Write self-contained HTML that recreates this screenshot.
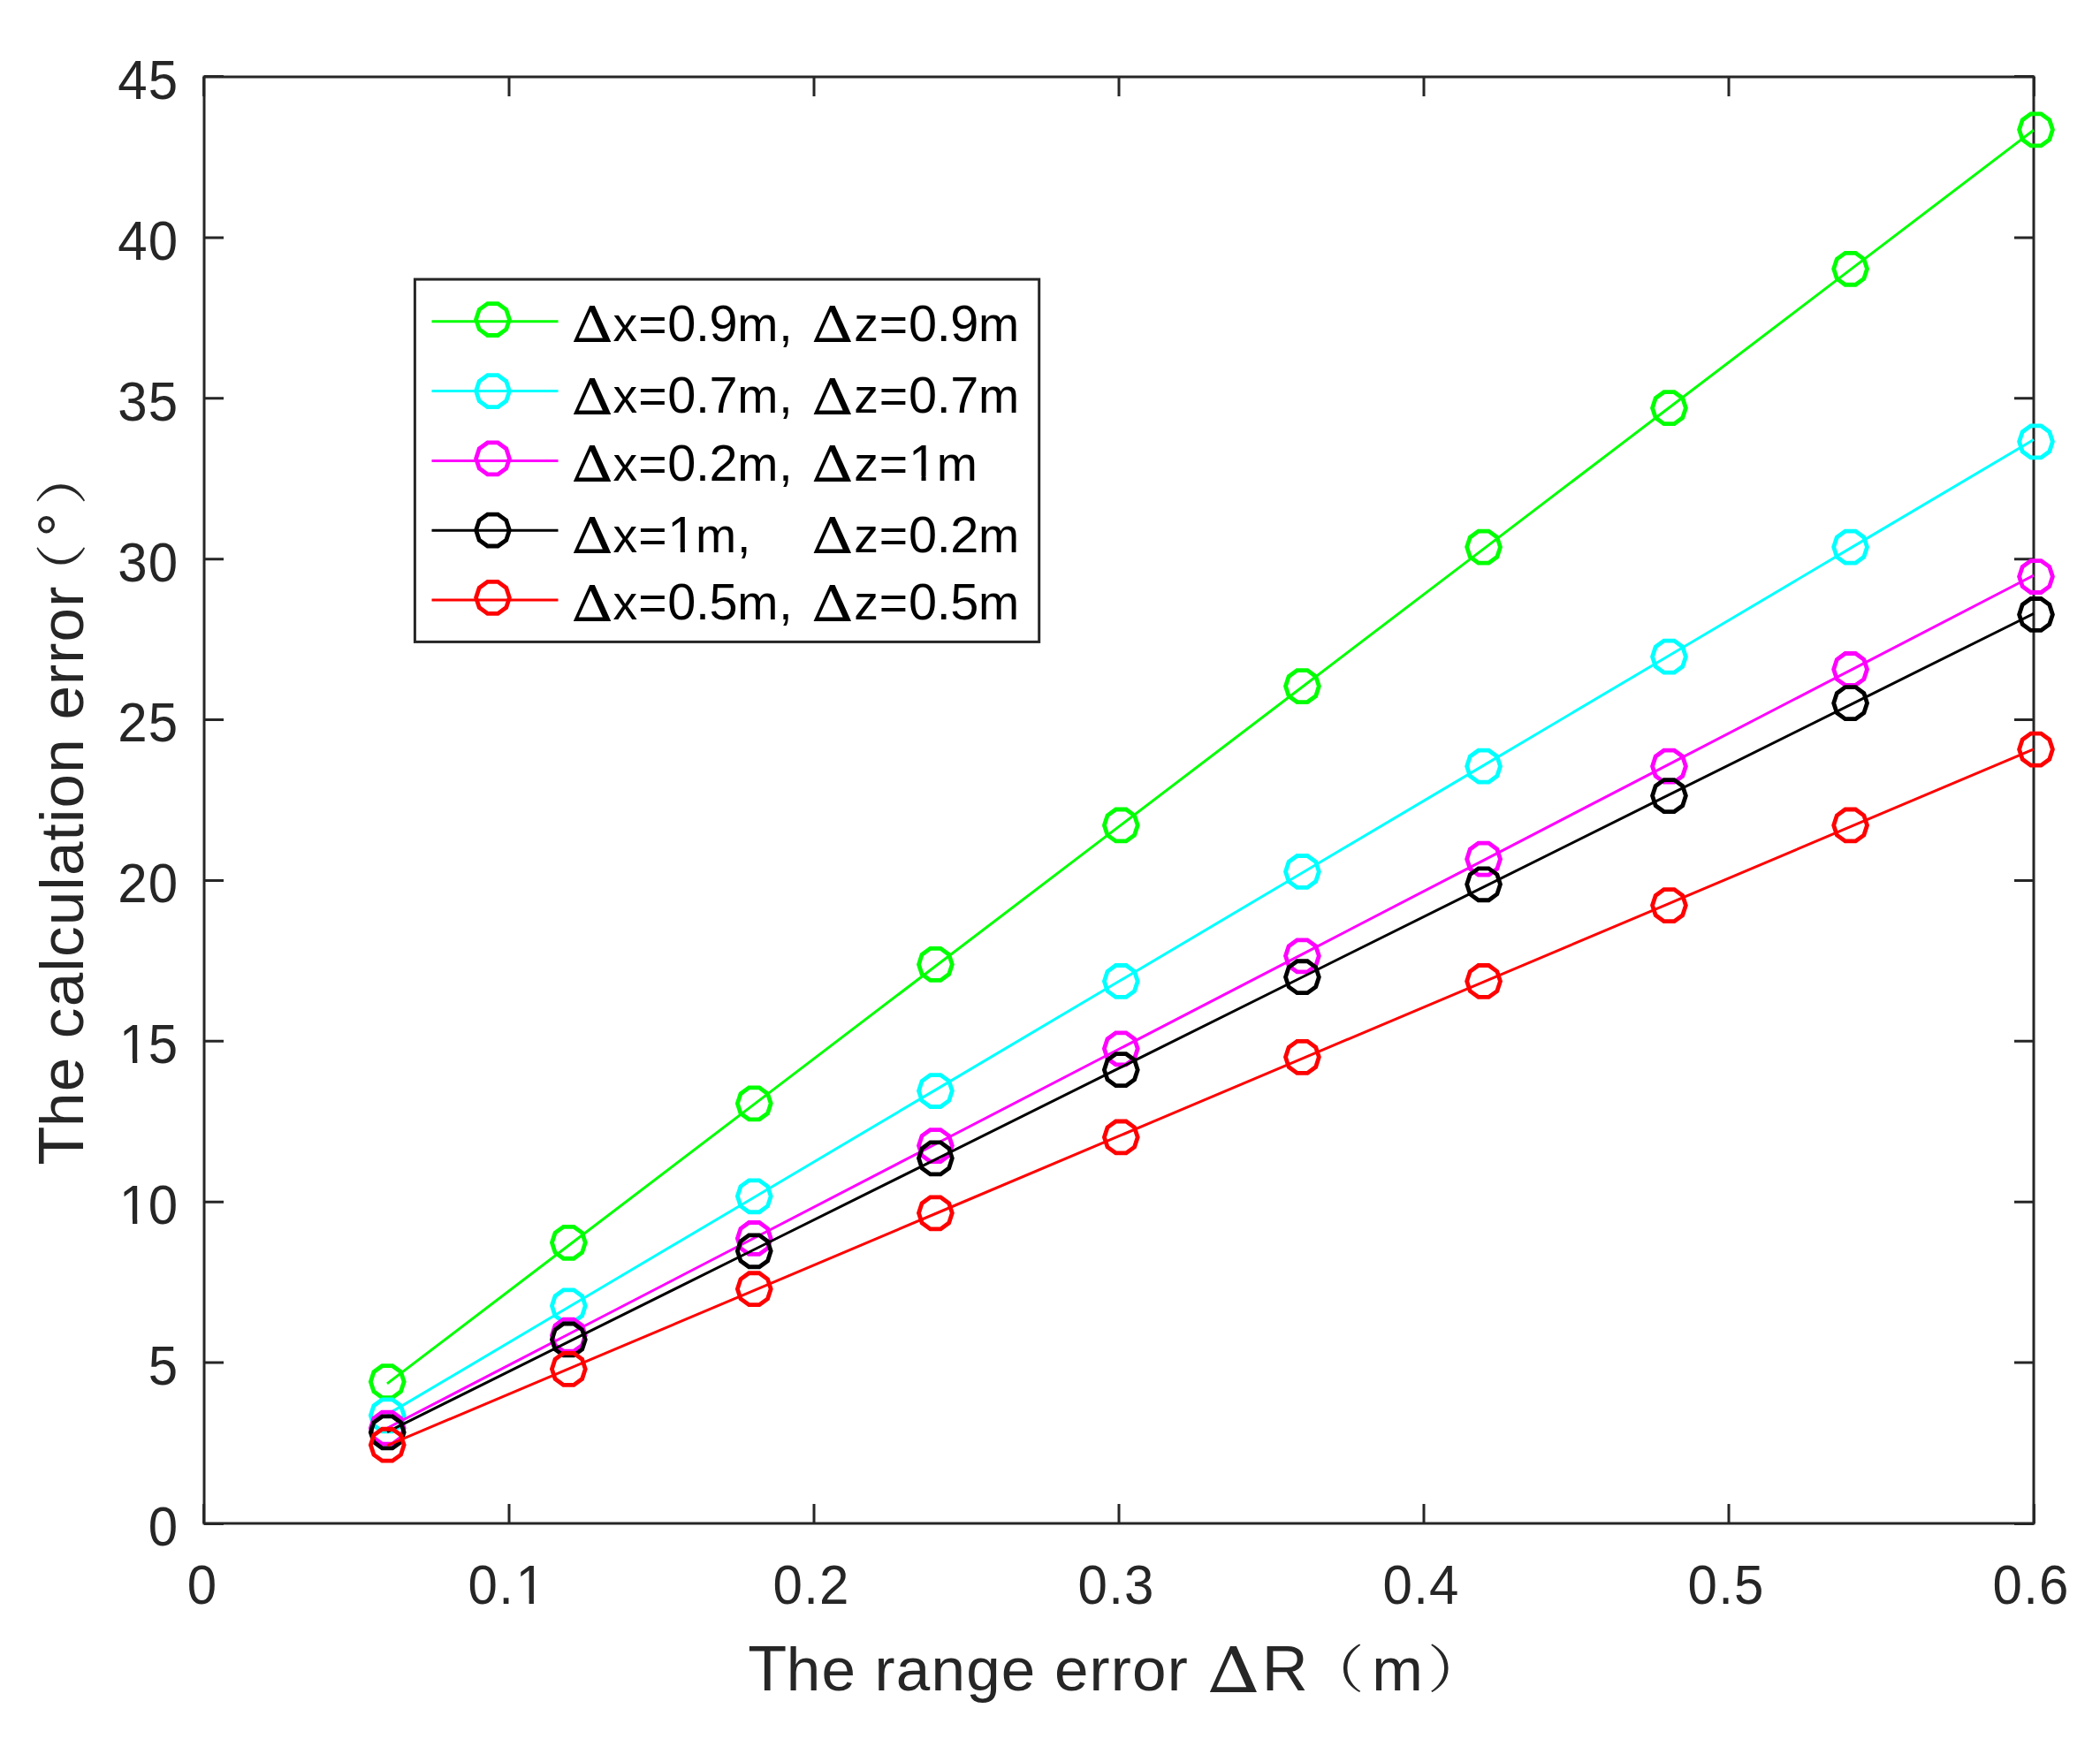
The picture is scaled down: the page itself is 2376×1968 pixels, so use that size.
<!DOCTYPE html>
<html lang="en">
<head>
<meta charset="utf-8">
<title>Calculation error versus range error</title>
<style>
html,body{margin:0;padding:0;background:#fff;}
body{width:2376px;height:1968px;overflow:hidden;}
svg{display:block;}
text{font-family:"Liberation Sans","Noto Sans CJK SC",sans-serif;fill:#262626;white-space:pre;}
.tick{font-size:60px;letter-spacing:1.2px;}
.lab{font-size:69.2px;letter-spacing:1.2px;}
.leg{font-size:55.4px;letter-spacing:0.85px;}
.leg text{fill:#000;}
.leg .n{font-size:57.616px;letter-spacing:-0.382096px;}
.lab .c{font-size:71.968px;letter-spacing:-0.491248px;}
text.d{font-family:"DejaVu Math TeX Gyre","DejaVu Serif",serif;letter-spacing:0;}
text.p{font-family:"Noto Serif CJK SC","Noto Sans CJK SC",serif;letter-spacing:0;}
</style>
</head>
<body>
<svg width="2376" height="1968" viewBox="0 0 2376 1968">
<rect x="0" y="0" width="2376" height="1968" fill="#fff"/>
<g stroke="#262626" stroke-width="3" fill="none" stroke-linecap="butt">
<rect x="231.0" y="87.0" width="2070.0" height="1637.0"/>
<path d="M576.0 1724.0v-22 M576.0 87.0v22 M921.0 1724.0v-22 M921.0 87.0v22 M1266.0 1724.0v-22 M1266.0 87.0v22 M1611.0 1724.0v-22 M1611.0 87.0v22 M1956.0 1724.0v-22 M1956.0 87.0v22 M231.0 1542.11h22 M2301.0 1542.11h-22 M231.0 1360.22h22 M2301.0 1360.22h-22 M231.0 1178.33h22 M2301.0 1178.33h-22 M231.0 996.44h22 M2301.0 996.44h-22 M231.0 814.56h22 M2301.0 814.56h-22 M231.0 632.67h22 M2301.0 632.67h-22 M231.0 450.78h22 M2301.0 450.78h-22 M231.0 268.89h22 M2301.0 268.89h-22 M230.6 1724.0v-22 M230.6 87.0v22 M2301.4 1724.0v-22 M2301.4 87.0v22 M231.0 1724.4h22 M2301.0 1724.4h-22 M231.0 86.6h22 M2301.0 86.6h-22"/>
</g>
<g class="tick">
<text transform="translate(211.7 1814.8) scale(1 1.04)">0</text>
<text transform="translate(529.6 1814.8) scale(1 1.04)">0.<tspan dx="1.5">1</tspan></text>
<text transform="translate(874.6 1814.8) scale(1 1.04)">0.2</text>
<text transform="translate(1219.6 1814.8) scale(1 1.04)">0.3</text>
<text transform="translate(1564.6 1814.8) scale(1 1.04)">0.4</text>
<text transform="translate(1909.6 1814.8) scale(1 1.04)">0.5</text>
<text transform="translate(2254.6 1814.8) scale(1 1.04)">0.6</text>
<text transform="translate(202.3 1748.8) scale(1 1.04)" text-anchor="end">0</text>
<text transform="translate(202.3 1566.9) scale(1 1.04)" text-anchor="end">5</text>
<text transform="translate(202.3 1385.0) scale(1 1.04)" text-anchor="end">1<tspan dx="-1.5">0</tspan></text>
<text transform="translate(202.3 1203.1) scale(1 1.04)" text-anchor="end">1<tspan dx="-1.5">5</tspan></text>
<text transform="translate(202.3 1021.2) scale(1 1.04)" text-anchor="end">20</text>
<text transform="translate(202.3 839.4) scale(1 1.04)" text-anchor="end">25</text>
<text transform="translate(202.3 657.5) scale(1 1.04)" text-anchor="end">30</text>
<text transform="translate(202.3 475.6) scale(1 1.04)" text-anchor="end">35</text>
<text transform="translate(202.3 293.7) scale(1 1.04)" text-anchor="end">40</text>
<text transform="translate(202.3 111.8) scale(1 1.04)" text-anchor="end">45</text>
</g>
<g class="lab">
<text x="846.3" y="1913.0"><tspan class="c">T</tspan>he range error </text><text class="d" transform="translate(1362.3 1914.8) scale(1.165 1)" font-size="71.0">Δ</text><text class="c" x="1427.8" y="1913.0">R</text><text class="p" transform="translate(1476.1 1910.0) scale(1.160 1)" font-size="58.2">（</text><text x="1552.3" y="1913.0">m</text><text class="p" transform="translate(1615.0 1910.0) scale(1.160 1)" font-size="58.2">）</text>
</g>
<g class="lab" transform="translate(94.1 1316.8) rotate(-90)">
<text x="-1.6" y="0"><tspan class="c">T</tspan>he calculation error</text><text class="p" transform="translate(634.2 -3.0) scale(1.160 1)" font-size="58.2">（</text><text x="709.2" y="-3.0">°</text><text class="p" transform="translate(745.0 -3.0) scale(1.160 1)" font-size="58.2">）</text>
</g>
<g stroke="#00ff00" fill="none">
<polyline stroke-width="3" points="438.00,1565.88 645.00,1408.25 852.00,1250.63 1059.00,1093.00 1266.00,935.38 1473.00,777.75 1680.00,620.13 1887.00,462.50 2094.00,304.88 2301.00,147.25"/>
<g stroke-width="4.8" stroke-linejoin="miter">
<polygon points="457.14,1563.68 453.53,1552.57 444.08,1545.71 432.40,1545.71 422.95,1552.57 419.34,1563.68 422.95,1574.79 432.40,1581.66 444.08,1581.66 453.53,1574.79"/>
<polygon points="662.27,1406.26 658.66,1395.15 649.21,1388.28 637.53,1388.28 628.08,1395.15 624.47,1406.26 628.08,1417.37 637.53,1424.23 649.21,1424.23 658.66,1417.37"/>
<polygon points="872.17,1248.83 868.56,1237.72 859.11,1230.86 847.43,1230.86 837.98,1237.72 834.37,1248.83 837.98,1259.94 847.43,1266.81 859.11,1266.81 868.56,1259.94"/>
<polygon points="1077.30,1091.40 1073.69,1080.29 1064.24,1073.43 1052.56,1073.43 1043.11,1080.29 1039.50,1091.40 1043.11,1102.51 1052.56,1109.38 1064.24,1109.38 1073.69,1102.51"/>
<polygon points="1287.20,933.98 1283.59,922.87 1274.14,916.00 1262.46,916.00 1253.01,922.87 1249.40,933.98 1253.01,945.09 1262.46,951.95 1274.14,951.95 1283.59,945.09"/>
<polygon points="1492.33,776.55 1488.72,765.44 1479.27,758.58 1467.59,758.58 1458.14,765.44 1454.53,776.55 1458.14,787.66 1467.59,794.53 1479.27,794.53 1488.72,787.66"/>
<polygon points="1697.47,619.12 1693.86,608.02 1684.41,601.15 1672.73,601.15 1663.28,608.02 1659.67,619.12 1663.28,630.23 1672.73,637.10 1684.41,637.10 1693.86,630.23"/>
<polygon points="1907.37,461.70 1903.76,450.59 1894.31,443.72 1882.63,443.72 1873.18,450.59 1869.57,461.70 1873.18,472.81 1882.63,479.67 1894.31,479.67 1903.76,472.81"/>
<polygon points="2112.50,304.27 2108.89,293.16 2099.44,286.30 2087.76,286.30 2078.31,293.16 2074.70,304.27 2078.31,315.38 2087.76,322.25 2099.44,322.25 2108.89,315.38"/>
<polygon points="2322.40,146.84 2318.79,135.74 2309.34,128.87 2297.66,128.87 2288.21,135.74 2284.60,146.84 2288.21,157.95 2297.66,164.82 2309.34,164.82 2318.79,157.95"/>
</g>
</g>
<g stroke="#00ffff" fill="none">
<polyline stroke-width="3" points="438.00,1600.91 645.00,1478.31 852.00,1355.72 1059.00,1233.13 1266.00,1110.53 1473.00,987.94 1680.00,865.35 1887.00,742.76 2094.00,620.16 2301.00,497.57"/>
<g stroke-width="4.8" stroke-linejoin="miter">
<polygon points="457.14,1601.85 453.53,1590.74 444.08,1583.87 432.40,1583.87 422.95,1590.74 419.34,1601.85 422.95,1612.96 432.40,1619.82 444.08,1619.82 453.53,1612.96"/>
<polygon points="662.27,1477.81 658.66,1466.71 649.21,1459.84 637.53,1459.84 628.08,1466.71 624.47,1477.81 628.08,1488.92 637.53,1495.79 649.21,1495.79 658.66,1488.92"/>
<polygon points="872.17,1353.78 868.56,1342.67 859.11,1335.81 847.43,1335.81 837.98,1342.67 834.37,1353.78 837.98,1364.89 847.43,1371.76 859.11,1371.76 868.56,1364.89"/>
<polygon points="1077.30,1234.52 1073.69,1223.41 1064.24,1216.54 1052.56,1216.54 1043.11,1223.41 1039.50,1234.52 1043.11,1245.63 1052.56,1252.49 1064.24,1252.49 1073.69,1245.63"/>
<polygon points="1287.20,1110.49 1283.59,1099.38 1274.14,1092.51 1262.46,1092.51 1253.01,1099.38 1249.40,1110.49 1253.01,1121.60 1262.46,1128.46 1274.14,1128.46 1283.59,1121.60"/>
<polygon points="1492.33,986.45 1488.72,975.34 1479.27,968.48 1467.59,968.48 1458.14,975.34 1454.53,986.45 1458.14,997.56 1467.59,1004.43 1479.27,1004.43 1488.72,997.56"/>
<polygon points="1697.47,867.19 1693.86,856.08 1684.41,849.22 1672.73,849.22 1663.28,856.08 1659.67,867.19 1663.28,878.30 1672.73,885.17 1684.41,885.17 1693.86,878.30"/>
<polygon points="1907.37,743.16 1903.76,732.05 1894.31,725.18 1882.63,725.18 1873.18,732.05 1869.57,743.16 1873.18,754.27 1882.63,761.13 1894.31,761.13 1903.76,754.27"/>
<polygon points="2112.50,619.12 2108.89,608.02 2099.44,601.15 2087.76,601.15 2078.31,608.02 2074.70,619.12 2078.31,630.23 2087.76,637.10 2099.44,637.10 2108.89,630.23"/>
<polygon points="2322.40,499.86 2318.79,488.75 2309.34,481.89 2297.66,481.89 2288.21,488.75 2284.60,499.86 2288.21,510.97 2297.66,517.84 2309.34,517.84 2318.79,510.97"/>
</g>
</g>
<g stroke="#ff00ff" fill="none">
<polyline stroke-width="3" points="438.00,1616.26 645.00,1509.02 852.00,1401.77 1059.00,1294.53 1266.00,1187.29 1473.00,1080.05 1680.00,972.81 1887.00,865.57 2094.00,758.32 2301.00,651.08"/>
<g stroke-width="4.8" stroke-linejoin="miter">
<polygon points="457.14,1616.16 453.53,1605.05 444.08,1598.18 432.40,1598.18 422.95,1605.05 419.34,1616.16 422.95,1627.27 432.40,1634.13 444.08,1634.13 453.53,1627.27"/>
<polygon points="662.27,1511.21 658.66,1500.10 649.21,1493.23 637.53,1493.23 628.08,1500.10 624.47,1511.21 628.08,1522.32 637.53,1529.18 649.21,1529.18 658.66,1522.32"/>
<polygon points="872.17,1401.49 868.56,1390.38 859.11,1383.51 847.43,1383.51 837.98,1390.38 834.37,1401.49 837.98,1412.60 847.43,1419.46 859.11,1419.46 868.56,1412.60"/>
<polygon points="1077.30,1296.54 1073.69,1285.43 1064.24,1278.56 1052.56,1278.56 1043.11,1285.43 1039.50,1296.54 1043.11,1307.64 1052.56,1314.51 1064.24,1314.51 1073.69,1307.64"/>
<polygon points="1287.20,1186.81 1283.59,1175.70 1274.14,1168.84 1262.46,1168.84 1253.01,1175.70 1249.40,1186.81 1253.01,1197.92 1262.46,1204.79 1274.14,1204.79 1283.59,1197.92"/>
<polygon points="1492.33,1081.86 1488.72,1070.75 1479.27,1063.89 1467.59,1063.89 1458.14,1070.75 1454.53,1081.86 1458.14,1092.97 1467.59,1099.84 1479.27,1099.84 1488.72,1092.97"/>
<polygon points="1697.47,972.14 1693.86,961.03 1684.41,954.17 1672.73,954.17 1663.28,961.03 1659.67,972.14 1663.28,983.25 1672.73,990.12 1684.41,990.12 1693.86,983.25"/>
<polygon points="1907.37,867.19 1903.76,856.08 1894.31,849.22 1882.63,849.22 1873.18,856.08 1869.57,867.19 1873.18,878.30 1882.63,885.17 1894.31,885.17 1903.76,878.30"/>
<polygon points="2112.50,757.47 2108.89,746.36 2099.44,739.49 2087.76,739.49 2078.31,746.36 2074.70,757.47 2078.31,768.58 2087.76,775.44 2099.44,775.44 2108.89,768.58"/>
<polygon points="2322.40,652.52 2318.79,641.41 2309.34,634.54 2297.66,634.54 2288.21,641.41 2284.60,652.52 2288.21,663.63 2297.66,670.49 2309.34,670.49 2318.79,663.63"/>
</g>
</g>
<g stroke="#000000" fill="none">
<polyline stroke-width="3" points="438.00,1620.59 645.00,1517.67 852.00,1414.76 1059.00,1311.85 1266.00,1208.94 1473.00,1106.02 1680.00,1003.11 1887.00,900.20 2094.00,797.29 2301.00,694.37"/>
<g stroke-width="4.8" stroke-linejoin="miter">
<polygon points="457.14,1620.93 453.53,1609.82 444.08,1602.95 432.40,1602.95 422.95,1609.82 419.34,1620.93 422.95,1632.04 432.40,1638.90 444.08,1638.90 453.53,1632.04"/>
<polygon points="662.27,1515.98 658.66,1504.87 649.21,1498.00 637.53,1498.00 628.08,1504.87 624.47,1515.98 628.08,1527.09 637.53,1533.95 649.21,1533.95 658.66,1527.09"/>
<polygon points="872.17,1415.80 868.56,1404.69 859.11,1397.82 847.43,1397.82 837.98,1404.69 834.37,1415.80 837.98,1426.91 847.43,1433.77 859.11,1433.77 868.56,1426.91"/>
<polygon points="1077.30,1310.85 1073.69,1299.74 1064.24,1292.87 1052.56,1292.87 1043.11,1299.74 1039.50,1310.85 1043.11,1321.96 1052.56,1328.82 1064.24,1328.82 1073.69,1321.96"/>
<polygon points="1287.20,1210.67 1283.59,1199.56 1274.14,1192.69 1262.46,1192.69 1253.01,1199.56 1249.40,1210.67 1253.01,1221.78 1262.46,1228.64 1274.14,1228.64 1283.59,1221.78"/>
<polygon points="1492.33,1105.72 1488.72,1094.61 1479.27,1087.74 1467.59,1087.74 1458.14,1094.61 1454.53,1105.72 1458.14,1116.82 1467.59,1123.69 1479.27,1123.69 1488.72,1116.82"/>
<polygon points="1697.47,1000.76 1693.86,989.66 1684.41,982.79 1672.73,982.79 1663.28,989.66 1659.67,1000.76 1663.28,1011.87 1672.73,1018.74 1684.41,1018.74 1693.86,1011.87"/>
<polygon points="1907.37,900.58 1903.76,889.47 1894.31,882.61 1882.63,882.61 1873.18,889.47 1869.57,900.58 1873.18,911.69 1882.63,918.56 1894.31,918.56 1903.76,911.69"/>
<polygon points="2112.50,795.63 2108.89,784.52 2099.44,777.66 2087.76,777.66 2078.31,784.52 2074.70,795.63 2078.31,806.74 2087.76,813.61 2099.44,813.61 2108.89,806.74"/>
<polygon points="2322.40,695.45 2318.79,684.34 2309.34,677.48 2297.66,677.48 2288.21,684.34 2284.60,695.45 2288.21,706.56 2297.66,713.43 2309.34,713.43 2318.79,706.56"/>
</g>
</g>
<g stroke="#ff0000" fill="none">
<polyline stroke-width="3" points="438.00,1635.94 645.00,1548.38 852.00,1460.82 1059.00,1373.25 1266.00,1285.69 1473.00,1198.13 1680.00,1110.57 1887.00,1023.01 2094.00,935.45 2301.00,847.89"/>
<g stroke-width="4.8" stroke-linejoin="miter">
<polygon points="457.14,1635.24 453.53,1624.13 444.08,1617.27 432.40,1617.27 422.95,1624.13 419.34,1635.24 422.95,1646.35 432.40,1653.22 444.08,1653.22 453.53,1646.35"/>
<polygon points="662.27,1549.37 658.66,1538.26 649.21,1531.40 637.53,1531.40 628.08,1538.26 624.47,1549.37 628.08,1560.48 637.53,1567.35 649.21,1567.35 658.66,1560.48"/>
<polygon points="872.17,1458.73 868.56,1447.62 859.11,1440.76 847.43,1440.76 837.98,1447.62 834.37,1458.73 837.98,1469.84 847.43,1476.71 859.11,1476.71 868.56,1469.84"/>
<polygon points="1077.30,1372.86 1073.69,1361.75 1064.24,1354.89 1052.56,1354.89 1043.11,1361.75 1039.50,1372.86 1043.11,1383.97 1052.56,1390.84 1064.24,1390.84 1073.69,1383.97"/>
<polygon points="1287.20,1286.99 1283.59,1275.89 1274.14,1269.02 1262.46,1269.02 1253.01,1275.89 1249.40,1286.99 1253.01,1298.10 1262.46,1304.97 1274.14,1304.97 1283.59,1298.10"/>
<polygon points="1492.33,1196.36 1488.72,1185.25 1479.27,1178.38 1467.59,1178.38 1458.14,1185.25 1454.53,1196.36 1458.14,1207.46 1467.59,1214.33 1479.27,1214.33 1488.72,1207.46"/>
<polygon points="1697.47,1110.49 1693.86,1099.38 1684.41,1092.51 1672.73,1092.51 1663.28,1099.38 1659.67,1110.49 1663.28,1121.60 1672.73,1128.46 1684.41,1128.46 1693.86,1121.60"/>
<polygon points="1907.37,1024.62 1903.76,1013.51 1894.31,1006.64 1882.63,1006.64 1873.18,1013.51 1869.57,1024.62 1873.18,1035.73 1882.63,1042.59 1894.31,1042.59 1903.76,1035.73"/>
<polygon points="2112.50,933.98 2108.89,922.87 2099.44,916.00 2087.76,916.00 2078.31,922.87 2074.70,933.98 2078.31,945.09 2087.76,951.95 2099.44,951.95 2108.89,945.09"/>
<polygon points="2322.40,848.11 2318.79,837.00 2309.34,830.13 2297.66,830.13 2288.21,837.00 2284.60,848.11 2288.21,859.22 2297.66,866.08 2309.34,866.08 2318.79,859.22"/>
</g>
</g>
<rect x="469.4" y="316.1" width="706.3" height="410.3" fill="#fff" stroke="#262626" stroke-width="3"/>
<g class="leg">
<g stroke="#00ff00" fill="none"><path stroke-width="3" d="M488.5 363.7H631.5"/><polygon stroke-width="4.8" points="576.40,361.52 572.79,350.41 563.34,343.54 551.66,343.54 542.21,350.41 538.60,361.52 542.21,372.63 551.66,379.49 563.34,379.49 572.79,372.63"/></g>
<g><text class="d" transform="translate(643.6 387.4) scale(1.165 1)" font-size="56.8">Δ</text><text x="693.6" y="386.0">x=<tspan class="n">0.9</tspan>m, </text><text class="d" transform="translate(915.2 387.4) scale(1.165 1)" font-size="56.8">Δ</text><text x="966.3" y="386.0">z=<tspan class="n">0.9</tspan>m</text></g>
<g stroke="#00ffff" fill="none"><path stroke-width="3" d="M488.5 442.4H631.5"/><polygon stroke-width="4.8" points="576.40,442.62 572.79,431.51 563.34,424.64 551.66,424.64 542.21,431.51 538.60,442.62 542.21,453.73 551.66,460.59 563.34,460.59 572.79,453.73"/></g>
<g><text class="d" transform="translate(643.6 468.7) scale(1.165 1)" font-size="56.8">Δ</text><text x="693.6" y="467.3">x=<tspan class="n">0.7</tspan>m, </text><text class="d" transform="translate(915.2 468.7) scale(1.165 1)" font-size="56.8">Δ</text><text x="966.3" y="467.3">z=<tspan class="n">0.7</tspan>m</text></g>
<g stroke="#ff00ff" fill="none"><path stroke-width="3" d="M488.5 521.6H631.5"/><polygon stroke-width="4.8" points="576.40,518.94 572.79,507.83 563.34,500.97 551.66,500.97 542.21,507.83 538.60,518.94 542.21,530.05 551.66,536.92 563.34,536.92 572.79,530.05"/></g>
<g><text class="d" transform="translate(643.6 545.0) scale(1.165 1)" font-size="56.8">Δ</text><text x="693.6" y="543.6">x=<tspan class="n">0.2</tspan>m, </text><text class="d" transform="translate(915.2 545.0) scale(1.165 1)" font-size="56.8">Δ</text><text x="966.3" y="543.6">z=<tspan class="n">1</tspan>m</text></g>
<g stroke="#000000" fill="none"><path stroke-width="3" d="M488.5 600.3H631.5"/><polygon stroke-width="4.8" points="576.40,600.04 572.79,588.93 563.34,582.07 551.66,582.07 542.21,588.93 538.60,600.04 542.21,611.15 551.66,618.02 563.34,618.02 572.79,611.15"/></g>
<g><text class="d" transform="translate(643.6 626.3) scale(1.165 1)" font-size="56.8">Δ</text><text x="693.6" y="624.9">x=<tspan class="n">1</tspan>m,    </text><text class="d" transform="translate(915.2 626.3) scale(1.165 1)" font-size="56.8">Δ</text><text x="966.3" y="624.9">z=<tspan class="n">0.2</tspan>m</text></g>
<g stroke="#ff0000" fill="none"><path stroke-width="3" d="M488.5 679.1H631.5"/><polygon stroke-width="4.8" points="576.40,676.37 572.79,665.26 563.34,658.40 551.66,658.40 542.21,665.26 538.60,676.37 542.21,687.48 551.66,694.35 563.34,694.35 572.79,687.48"/></g>
<g><text class="d" transform="translate(643.6 702.7) scale(1.165 1)" font-size="56.8">Δ</text><text x="693.6" y="701.3">x=<tspan class="n">0.5</tspan>m, </text><text class="d" transform="translate(915.2 702.7) scale(1.165 1)" font-size="56.8">Δ</text><text x="966.3" y="701.3">z=<tspan class="n">0.5</tspan>m</text></g>
</g>
<g fill="#fff" stroke="none">
<path d="M586.9 1809.6H598.6V1816.0H586.9Z M603.9 1809.6H615.1V1816.0H603.9Z"/>
<path d="M137.9 1379.8H150.0V1386.2H137.9Z M155.3 1379.8H167.1V1386.2H155.3Z"/>
<path d="M137.9 1197.9H150.0V1204.3H137.9Z M155.3 1197.9H167.1V1204.3H155.3Z"/>
<path d="M1030.8 538.7H1042.5V544.8H1030.8Z M1047.6 538.7H1058.9V544.8H1047.6Z"/>
<path d="M758.1 620.0H769.8V626.1H758.1Z M774.9 620.0H786.2V626.1H774.9Z"/>
</g>
</svg>
</body>
</html>
